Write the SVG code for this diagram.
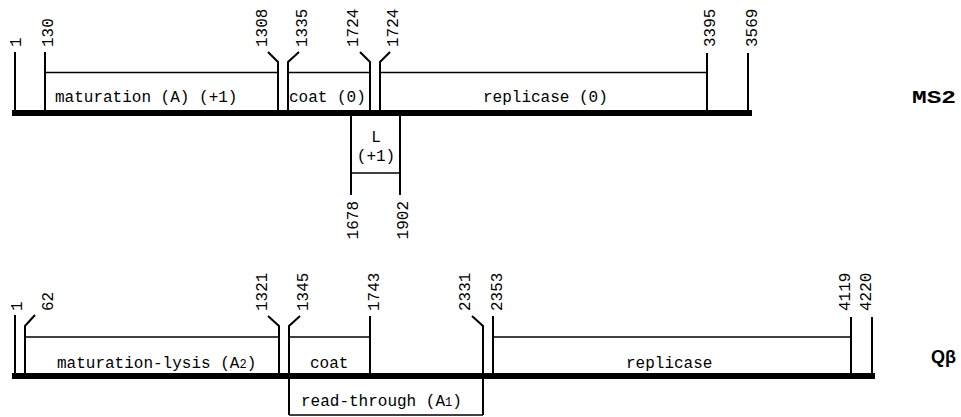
<svg xmlns="http://www.w3.org/2000/svg" width="961" height="417" viewBox="0 0 961 417">
<style>
text{font-family:"Liberation Mono","Courier New",monospace;font-size:16px;fill:#000}
.tk{fill:none;stroke:#000;stroke-width:2}
.hl{fill:none;stroke:#000;stroke-width:1.5}
.bar{fill:none;stroke:#000;stroke-width:6}
.mid{text-anchor:middle}
.end{text-anchor:end}
.sub{font-size:12px}
</style>
<rect width="961" height="417" fill="#fff"/>
<g id="connectors">
<path class="bar" d="M12 113H752"/>
<path class="bar" d="M12 376H875"/>
<path class="tk" d="M15 52V113M45 52V113M268 52L278 62V113M299 52L288 62V113M360 52L370 62V113M390 52L380 62V113M707 53V113M748 53V113"/>
<path class="tk" d="M15 315V376M35 315L25 326V376M268 316L279 326V376M300 316L289 326V415M370 316V376M472 316L483 326V415M493 316V376M851 317V376M872 317V376"/>
</g>
<g id="ms2-label"><text x="912" y="103" style="font-weight:bold;font-size:18px" textLength="44" lengthAdjust="spacingAndGlyphs">MS2</text></g>
<g id="ms2-positions">
<text transform="translate(21,47) rotate(-90)">1</text>
<text transform="translate(53,47) rotate(-90)">130</text>
<text transform="translate(267,47) rotate(-90)">1308</text>
<text transform="translate(307,47) rotate(-90)">1335</text>
<text transform="translate(358,47) rotate(-90)">1724</text>
<text transform="translate(398,47) rotate(-90)">1724</text>
<text transform="translate(715,47) rotate(-90)">3395</text>
<text transform="translate(757,47) rotate(-90)">3569</text>
</g>
<g id="ms2-maturation"><path class="hl" d="M45 72.5H278"/><text x="55" y="102">maturation (A) (+1)</text></g>
<g id="ms2-coat"><path class="hl" d="M288 72.5H370"/><text x="289" y="102">coat (0)</text></g>
<g id="ms2-replicase"><path class="hl" d="M380 72.5H707"/><text x="483" y="102">replicase (0)</text></g>
<g id="ms2-L">
<path class="tk" d="M351 113V195M400 113V195"/><path class="hl" d="M351 173H400"/>
<text class="mid" x="376" y="142">L</text>
<text class="mid" x="376" y="161">(+1)</text>
<text class="end" transform="translate(358,201) rotate(-90)">1678</text>
<text class="end" transform="translate(408,201) rotate(-90)">1902</text>
</g>
<g id="qb-label"><text x="931" y="363" style="font-family:'Liberation Sans',Arial,sans-serif;font-weight:bold;font-size:18px">Qβ</text></g>
<g id="qb-positions">
<text transform="translate(22,311) rotate(-90)">1</text>
<text transform="translate(53,311) rotate(-90)">62</text>
<text transform="translate(267,311) rotate(-90)">1321</text>
<text transform="translate(308,311) rotate(-90)">1345</text>
<text transform="translate(379,311) rotate(-90)">1743</text>
<text transform="translate(470,311) rotate(-90)">2331</text>
<text transform="translate(502,311) rotate(-90)">2353</text>
<text transform="translate(850,311) rotate(-90)">4119</text>
<text transform="translate(871,311) rotate(-90)">4220</text>
</g>
<g id="qb-maturation"><path class="hl" d="M25 337H279"/><text x="57" y="368">maturation-lysis (A<tspan class="sub">2</tspan>)</text></g>
<g id="qb-coat"><path class="hl" d="M289 337H370"/><text x="310" y="368">coat</text></g>
<g id="qb-replicase"><path class="hl" d="M493 337H851"/><text x="626" y="368">replicase</text></g>
<g id="qb-readthrough"><path class="hl" d="M289 415H483"/><text x="301" y="406">read-through (A<tspan class="sub">1</tspan>)</text></g>
</svg>
